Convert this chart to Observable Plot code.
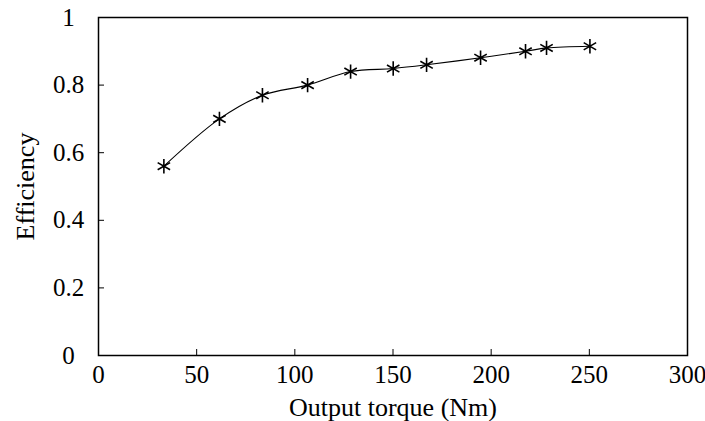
<!DOCTYPE html>
<html>
<head>
<meta charset="utf-8">
<script src="https://cdn.jsdelivr.net/npm/d3@7"></script>
<script src="https://cdn.jsdelivr.net/npm/@observablehq/plot@0.6"></script>
<style>
  html, body { margin: 0; padding: 0; background: #fff; }
  #chart svg { font-family: "Liberation Serif", "Times New Roman", serif; background: #fff; color: #000; }
  #chart svg text { font-family: "Liberation Serif", "Times New Roman", serif; fill: #000; }
</style>
</head>
<body>
<div id="chart"></div>
<script>
const torque = [33.3, 61.6, 83.5, 106.5, 128.4, 150.1, 167.1, 194.6, 217.5, 228.2, 250.3];
const efficiency = [0.56, 0.70, 0.77, 0.80, 0.84, 0.849, 0.86, 0.881, 0.90, 0.91, 0.915];
const xTicks = [0, 50, 100, 150, 200, 250, 300];
const yTicks = [0, 0.2, 0.4, 0.6, 0.8, 1];

const data = torque.map((t, i) => ({torque: t, efficiency: efficiency[i]}));

const chart = Plot.plot({
  width: 705,
  height: 421,
  marginLeft: 98,
  marginRight: 18,
  marginTop: 17,
  marginBottom: 66,
  style: {fontFamily: "Liberation Serif", fontSize: "25px"},
  x: {domain: [0, 300]},
  y: {domain: [0, 1]},
  marks: [
    Plot.frame({stroke: "#000", strokeWidth: 1.5}),
    Plot.axisX(xTicks, {tickSize: -6, tickPadding: 16, fontSize: 25, label: null, stroke: "#000"}),
    Plot.axisX({label: "Output torque (Nm)", ticks: [], tickSize: 0, labelAnchor: "center", labelOffset: 60, labelArrow: "none", fontSize: 26}),
    Plot.axisY(yTicks, {tickSize: -6, tickPadding: 36, textAnchor: "middle", fontSize: 25, tickFormat: d => String(d), label: null, stroke: "#000"}),
    Plot.axisY({label: "Efficiency", ticks: [], tickSize: 0, labelAnchor: "center", labelOffset: 83, labelArrow: "none", fontSize: 26}),
    Plot.line(data, {x: "torque", y: "efficiency", curve: "catmull-rom", stroke: "#000", strokeWidth: 1.1}),
    Plot.dot(data, {x: "torque", y: "efficiency", symbol: "asterisk", r: 6.8, stroke: "#000", strokeWidth: 1.6})
  ]
});
document.getElementById("chart").appendChild(chart);
</script>
</body>
</html>
